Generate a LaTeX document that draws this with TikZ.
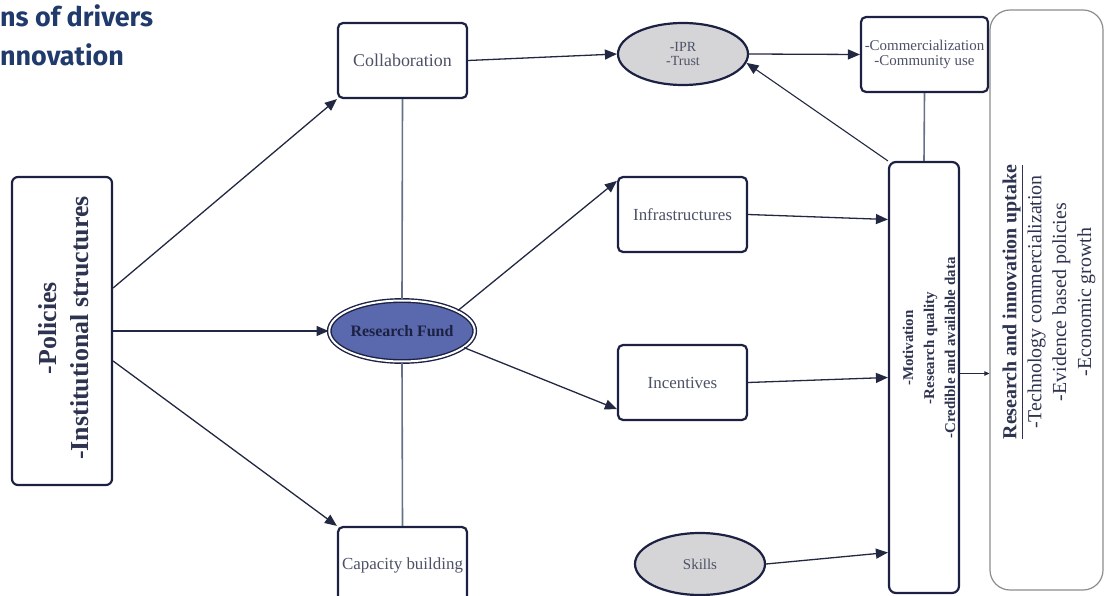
\documentclass[tikz,border=0pt]{standalone}
\usepackage{fontspec}
\setmainfont{Liberation Serif}
\newfontfamily\titlefont{Fira Sans}
\usetikzlibrary{shapes.geometric,arrows.meta,calc}
\definecolor{navy}{HTML}{1C2144}
\definecolor{lbl}{HTML}{4C5166}
\definecolor{conn}{HTML}{222842}
\definecolor{plainc}{HTML}{67708A}
\definecolor{ellgray}{HTML}{D5D5D7}
\definecolor{rfblue}{HTML}{5A69AD}
\definecolor{titleblue}{HTML}{1F3A6B}
\definecolor{uptgray}{HTML}{8C8C8C}
\definecolor{darktxt}{HTML}{2E3350}
\begin{document}
\begin{tikzpicture}[x=1bp,y=-1bp,
 boxnode/.style={draw=navy, line width=2.2bp, rounded corners=5bp, fill=white, rectangle, inner sep=0pt, text=lbl, font=\fontsize{17}{19}\selectfont, align=center},
 ellnode/.style={ellipse, draw=navy, line width=2.2bp, fill=ellgray, inner sep=0pt, text=lbl, align=center},
 arr/.style={draw=conn, line width=1.3bp, -{Triangle[length=12bp,width=10bp]}},
 sarr/.style={draw=conn, line width=0.8bp, -{Triangle[length=5bp,width=4.5bp]}},
 plainline/.style={draw=plainc, line width=1.6bp},
 txt/.style={inner sep=0pt, align=center, rotate=90},
 ttl/.style={anchor=base west, inner sep=0pt, text=titleblue, font=\titlefont\bfseries\fontsize{27}{30}\selectfont}
]
\useasboundingbox (0,0) rectangle (1109,596);
\clip (0,0) rectangle (1109,596);

% title fragments
\node[ttl] (t1) at (0,27) {ns of drivers};
\node[ttl] (t2) at (0,66) {nnovation};

% nodes
\node[boxnode, minimum width=100bp, minimum height=308bp, rounded corners=6bp] (pol) at (62,331) {};
\node[txt, text=darktxt, font=\bfseries\fontsize{26}{32}\selectfont] (poltext) at (64,328) {-Policies\\-Institutional structures};

\node[boxnode, minimum width=129bp, minimum height=75bp, font=\fontsize{18}{20}\selectfont] (collab) at (402.5,60.5) {Collaboration};
\node[ellnode, minimum width=130bp, minimum height=62bp, font=\fontsize{14}{14}\selectfont] (ipr) at (683,54) {-IPR\\-Trust};
\node[boxnode, minimum width=127bp, minimum height=75bp, font=\fontsize{15}{15}\selectfont] (comm) at (924.5,54.5) {-Commercialization\\-Community use};

\node[draw=uptgray, line width=1.2bp, rounded corners=20bp, minimum width=113bp, minimum height=580bp, inner sep=0pt] (upt) at (1046.5,300) {};
\node[txt, text=darktxt, font=\fontsize{20}{25}\selectfont] (upttext) at (1049,302) {\textbf{\underline{Research and innovation uptake}}\\-Technology commercialization\\-Evidence based policies\\-Economic growth};

\node[boxnode, minimum width=129bp, minimum height=75bp] (infra) at (682.5,214.5) {Infrastructures};
\node[ellipse, draw=navy, line width=1.4bp, double=white, double distance=2bp, fill=rfblue, minimum width=126bp, minimum height=61bp, inner sep=0pt, text=navy, font=\bfseries\fontsize{16}{18}\selectfont] (rf) at (402,331) {Research Fund};
\node[boxnode, minimum width=129bp, minimum height=75bp] (inc) at (682.5,382.5) {Incentives};
\node[boxnode, minimum width=129bp, minimum height=76bp] (cap) at (402.5,565) {Capacity building};
\node[ellnode, minimum width=130bp, minimum height=62bp, font=\fontsize{15}{17}\selectfont] (skills) at (700,564) {Skills};

\node[boxnode, minimum width=70bp, minimum height=431bp, rounded corners=7bp] (mot) at (924,377.5) {};
\node[txt, text=darktxt, font=\bfseries\fontsize{15}{21}\selectfont] (mottext) at (929,348) {-Motivation\\-Research quality\\-Credible and available data};

% connectors
\draw[arr] ([yshift=43bp]pol.east) -- (collab.south west);
\draw[arr] (pol.east) -- (rf.west);
\draw[arr] ([yshift=-30bp]pol.east) -- (cap.north west);
\draw[plainline] (collab.south) -- (rf.north);
\draw[plainline] (rf.south) -- (cap.north);
\draw[arr] (collab.east) -- (ipr.west);
\draw[arr] (ipr.east) -- (comm.west);
\draw[arr] (rf.20) -- ([yshift=-5bp]infra.north west);
\draw[arr] (rf.-15) -- ([yshift=12bp]inc.south west);
\draw[arr] (infra.east) -- ([yshift=158bp]mot.west);
\draw[arr] (inc.east) -- (mot.west);
\draw[arr] (skills.east) -- ([yshift=-175bp]mot.west);
\draw[arr, line width=1.1bp] (mot.north west) -- (ipr.-8);
\draw[plainline] (comm.south) -- (mot.north);
\draw[sarr] ([yshift=4bp]mot.east) -- ([yshift=4bp]upt.west |- mot.east);
\end{tikzpicture}
\end{document}
